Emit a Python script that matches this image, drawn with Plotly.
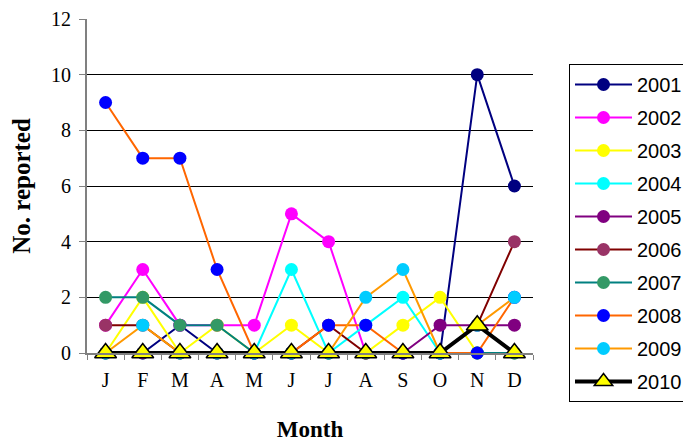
import plotly.graph_objects as go

months = ["J", "F", "M", "A", "M", "J", "J", "A", "S", "O", "N", "D"]
years = ["2001", "2002", "2003", "2004", "2005", "2006", "2007", "2008", "2009", "2010"]

y2001 = [0, 0, 1, 0, 0, 0, 0, 0, 0, 0, 10, 6]
y2002 = [1, 3, 1, 1, 1, 5, 4, 0, 0, 0, 0, 0]
y2003 = [0, 2, 0, 1, 0, 1, 0, 0, 1, 2, 0, 0]
y2004 = [0, 0, 0, 0, 0, 3, 0, 1, 2, 0, 0, 0]
y2005 = [0, 0, 0, 0, 0, 0, 0, 0, 0, 1, 1, 1]
y2006 = [1, 1, 0, 0, 0, 0, 1, 0, 0, 0, 1, 4]
y2007 = [2, 2, 1, 1, 0, 0, 0, 0, 0, 0, 0, 0]
y2008 = [9, 7, 7, 3, 0, 0, 1, 1, 0, 0, 0, 2]
y2009 = [0, 1, 0, 0, 0, 0, 0, 2, 3, 0, 1, 2]
y2010 = [0, 0, 0, 0, 0, 0, 0, 0, 0, 0, 1, 0]

series = [y2001, y2002, y2003, y2004, y2005, y2006, y2007, y2008, y2009, y2010]
line_colors = ["#000080", "#FF00FF", "#FFFF00", "#00FFFF", "#800080",
               "#800000", "#008080", "#FF6600", "#FF9900", "#000000"]
marker_colors = ["#000080", "#FF00FF", "#FFFF00", "#00FFFF", "#800080",
                 "#993366", "#339966", "#0000FF", "#00CCFF", "#FFFF00"]

x = list(range(len(months)))

W, H = 710, 434
ML, MR, MT, MB = 79, 185, 11, 89
pw, ph = W - ML - MR, H - MT - MB

fig = go.Figure()
for i, (yr, vals) in enumerate(zip(years, series)):
    if yr == "2010":
        fig.add_trace(go.Scatter(
            x=x, y=vals, name=yr, mode="lines+markers", cliponaxis=False,
            legendgroup=yr,
            line=dict(color=line_colors[i], width=4),
            marker=dict(symbol="triangle-up", size=19, color=marker_colors[i],
                        line=dict(color="black", width=1.5)),
        ))
    else:
        fig.add_trace(go.Scatter(
            x=x, y=vals, name=yr, mode="lines+markers", cliponaxis=False,
            legendgroup=yr,
            line=dict(color=line_colors[i], width=2),
            marker=dict(symbol="circle", size=13, color=marker_colors[i]),
        ))

fig.update_layout(
    width=W, height=H,
    margin=dict(l=ML, r=MR, t=MT, b=MB),
    paper_bgcolor="white", plot_bgcolor="white",
    showlegend=True,
    legend=dict(
        x=(561 - ML) / pw, y=1 - (56 - MT) / ph, xanchor="left", yanchor="top",
        bordercolor="black", borderwidth=1,
        font=dict(family="Liberation Sans, Arial", size=20, color="black"),
        traceorder="grouped", tracegroupgap=4,
        itemwidth=57,
    ),
    font=dict(family="Liberation Serif, Times New Roman", color="black"),
)
try:
    fig.update_layout(legend_maxheight=420)
except Exception:
    fig.update_layout(legend=dict(font=dict(size=19), tracegroupgap=5))

fig.update_xaxes(
    range=[-0.5, 11.5], automargin=False,
    tickmode="array", tickvals=x, ticktext=months,
    ticks="", ticklen=0, ticklabelstandoff=8,
    tickfont=dict(family="Liberation Serif", size=20, color="black"),
    showgrid=False, zeroline=False,
    showline=True, linecolor="#808080", linewidth=1.5,
    minor=dict(tickmode="array", tickvals=[v + 0.5 for v in x] + [-0.5],
               ticks="outside", ticklen=5, tickcolor="#808080", tickwidth=1),
    title=dict(text="<b>Month</b>", font=dict(family="Liberation Serif", size=23),
               standoff=34),
)

fig.update_yaxes(
    range=[0, 12], dtick=2, tick0=0, automargin=False,
    ticks="outside", ticklen=6, tickcolor="#808080", tickwidth=1,
    ticklabelstandoff=4,
    tickfont=dict(family="Liberation Serif", size=20, color="black"),
    showgrid=True, gridcolor="black", gridwidth=1,
    zeroline=False,
    showline=True, linecolor="#808080", linewidth=2,
    title=dict(text="<b>No. reported</b>", font=dict(family="Liberation Serif", size=25),
               standoff=18),
)

fig.write_html("out.html")
